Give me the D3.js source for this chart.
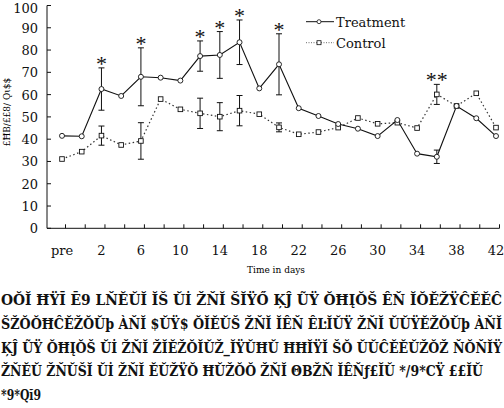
<!DOCTYPE html>
<html lang="en">
<head>
  <meta charset="UTF-8" />
  <title>Treatment vs Control</title>
  <script src="https://d3js.org/d3.v7.min.js"></script>
  <style>
    body { margin: 0; background: #fff; }
    svg { display: block; }
    .tick-label { font-family: "DejaVu Serif", serif; font-size: 13px; fill: #111; }
    .caption { font-family: "DejaVu Serif Condensed", "DejaVu Serif", serif; font-weight: bold; font-size: 14px; fill: #111; }
  </style>
</head>
<body>
  <svg id="chart" width="504" height="408"></svg>

  <script>
    // x categories: pre, then every 2 days from 0 to 42
    const days = ["pre", "0", "2", "4", "6", "8", "10", "12", "14", "16", "18", "20",
                  "22", "24", "26", "28", "30", "32", "34", "36", "38", "40", "42"];
    const xLabels = ["pre", "2", "6", "10", "14", "18", "22", "26", "30", "34", "38", "42"];
    const yTicks = [0, 10, 20, 30, 40, 50, 60, 70, 80, 90, 100];

    const treatment = [41.5, 41.3, 62.5, 59.4, 68, 67.6, 66.3, 77.3, 77.8, 83.5, 62.8, 73.6,
                       53.9, 50.4, 46.8, 44.7, 41.4, 48.6, 33.5, 32.1, 54.9, 49.4, 41.4];
    const treatmentErr = [0, 0, 9.5, 0, 13, 0, 0, 6.8, 10.5, 10, 0, 13.7,
                          0, 0, 0, 0, 0, 0, 0, 3, 0, 0, 0];
    const control = [31.1, 34.4, 41.6, 37.4, 39.2, 58, 53.4, 51.6, 50.1, 52.8, 51.2, 45.3,
                     42.2, 43.2, 45.2, 49.5, 46.9, 47.4, 45, 60.1, 54.9, 60.6, 45.2];
    const controlErr = [0, 0, 4.3, 0, 8.2, 0, 0, 6.8, 6.3, 6.8, 0, 2,
                        0, 0, 0, 0, 0, 0, 0, 4.5, 0, 0, 0];

    // significance marks: [day, series, label]
    const marks = [["2", "t", "*"], ["6", "t", "*"], ["12", "t", "*"], ["14", "t", "*"],
                   ["16", "t", "*"], ["20", "t", "*"], ["36", "c", "**"]];

    const captionLines = [
      "OŎĬ ĦŸĪ  Ē9 LŇĔŬĬ ĬŠ  Ŭİ  ŽŇĬ  ŠĬŸŐ  ĶĴ ŨŸ  ŎĦĮŎŠ  ÊŇ  ĬŎĔŽŸĈĔĔĈ",
      "ŠŽŎŎĦĈĔŽŎŬþ ÀŇĬ $ŬŸ$ ŎĬĔŬŠ ŽŇĬ ĬÊŇ ÊĿĬŬŸ ŽŇĬ ŬŬŸĔŽŎŬþ ÀŇĬ",
      "ĶĴ ŨŸ ŎĦĮŎŠ Ŭİ ŽŇĬ ŽĬĔŽŎĬŬŽ_ĬŸŬĦŬ ĦĦĬŸĬ ŠŎ ŬŬĈĔĔŬŽŎŽ ŇŎŇĬŸ",
      "ŽŇĔŬ ŽŇŬŠĬ Ŭİ ŽŇĬ ĔŬŽŸŎ ĦŬŽŎŎ ŽŇĬ ΘBŽŇ ĬÊŇƒ£ĬŬ */9*CŸ ££ĬŬ",
      "*9*Qĭ9"
    ];
    const captionWidths = [501, 501, 501, 482, 40];

    const svg = d3.select("#chart");

    const x = d3.scalePoint().domain(days).range([62, 496]);
    const y = d3.scaleLinear().domain([0, 100]).range([228.3, 5.5]);

    // axes
    svg.append("line").attr("x1", 47).attr("x2", 47).attr("y1", y(100)).attr("y2", y(0))
      .attr("stroke", "#111").attr("stroke-width", 1);
    svg.append("line").attr("x1", 47).attr("x2", 499.5).attr("y1", y(0)).attr("y2", y(0))
      .attr("stroke", "#111").attr("stroke-width", 1);

    yTicks.forEach(t => {
      svg.append("line").attr("x1", 47).attr("x2", 51).attr("y1", y(t)).attr("y2", y(t))
        .attr("stroke", "#111");
      svg.append("text").attr("class", "tick-label")
        .attr("x", 38).attr("y", y(t) + (t === 100 ? 7.5 : 5))
        .attr("text-anchor", "end").text(t);
    });

    days.forEach(d => {
      svg.append("line").attr("x1", x(d) + 3.5).attr("x2", x(d) + 3.5)
        .attr("y1", y(0)).attr("y2", y(0) - 4).attr("stroke", "#111");
    });

    xLabels.forEach(d => {
      svg.append("text").attr("class", "tick-label")
        .attr("x", x(d)).attr("y", 255)
        .attr("text-anchor", "middle").text(d);
    });

    svg.append("text").attr("x", 276).attr("y", 273)
      .attr("text-anchor", "middle")
      .style("font-family", "DejaVu Serif, serif").style("font-size", "9px")
      .text("Time in days");

    svg.append("text")
      .attr("transform", "translate(10,112) rotate(-90)")
      .attr("text-anchor", "middle")
      .style("font-family", "DejaVu Serif, serif").style("font-size", "9px")
      .text("£ĦB∕££8∕ Ǫɩ$$");

    // error bars
    function errBars(vals, errs) {
      vals.forEach((v, i) => {
        const e = errs[i];
        if (!e) return;
        const cx = x(days[i]);
        const g = svg.append("g").attr("stroke", "#111").attr("stroke-width", 1);
        g.append("line").attr("x1", cx).attr("x2", cx).attr("y1", y(v + e)).attr("y2", y(v - e));
        g.append("line").attr("x1", cx - 3).attr("x2", cx + 3).attr("y1", y(v + e)).attr("y2", y(v + e));
        g.append("line").attr("x1", cx - 3).attr("x2", cx + 3).attr("y1", y(v - e)).attr("y2", y(v - e));
      });
    }
    errBars(control, controlErr);
    errBars(treatment, treatmentErr);

    const line = d3.line().x((d, i) => x(days[i])).y(d => y(d));

    svg.append("path").datum(control).attr("d", line)
      .attr("fill", "none").attr("stroke", "#333").attr("stroke-width", 1.2)
      .attr("stroke-dasharray", "1.5,2.5");
    svg.append("path").datum(treatment).attr("d", line)
      .attr("fill", "none").attr("stroke", "#111").attr("stroke-width", 1.1);

    svg.selectAll(".sq").data(control).join("rect").attr("class", "sq")
      .attr("x", (d, i) => x(days[i]) - 2.3).attr("y", d => y(d) - 2.3)
      .attr("width", 4.6).attr("height", 4.6)
      .attr("fill", "#fff").attr("stroke", "#111").attr("stroke-width", 0.9);
    svg.selectAll(".ci").data(treatment).join("circle").attr("class", "ci")
      .attr("cx", (d, i) => x(days[i])).attr("cy", d => y(d)).attr("r", 2.5)
      .attr("fill", "#fff").attr("stroke", "#111").attr("stroke-width", 0.9);

    // significance stars
    marks.forEach(([d, s, lab]) => {
      const i = days.indexOf(d);
      const top = s === "t" ? treatment[i] + treatmentErr[i] : control[i] + controlErr[i];
      svg.append("text").attr("x", x(d)).attr("y", y(top) + 3)
        .attr("text-anchor", "middle")
        .style("font-family", "Liberation Serif, serif").style("font-size", "22px")
        .attr("fill", "#111").text(lab);
    });

    // legend
    const legend = [["Treatment", "t", 21.7], ["Control", "c", 42.7]];
    legend.forEach(([name, s, ly]) => {
      svg.append("line").attr("x1", 306).attr("x2", 334).attr("y1", ly).attr("y2", ly)
        .attr("stroke", s === "t" ? "#111" : "#444").attr("stroke-width", s === "t" ? 1 : 0.8)
        .attr("stroke-dasharray", s === "t" ? null : "1,1.5");
      if (s === "t") {
        svg.append("circle").attr("cx", 319).attr("cy", ly).attr("r", 2)
          .attr("fill", "#fff").attr("stroke", "#111").attr("stroke-width", 0.8);
      } else {
        svg.append("rect").attr("x", 317).attr("y", ly - 2).attr("width", 4).attr("height", 4)
          .attr("fill", "#fff").attr("stroke", "#111").attr("stroke-width", 0.8);
      }
      svg.append("text").attr("class", "tick-label").attr("x", 336).attr("y", ly + 5)
        .text(name);
    });

    // caption (garbled font as in the source)
    captionLines.forEach((t, i) => {
      svg.append("text").attr("class", "caption")
        .attr("x", 1).attr("y", 305 + i * 23.8)
        .attr("textLength", captionWidths[i]).attr("lengthAdjust", "spacingAndGlyphs")
        .text(t);
    });
  </script>
</body>
</html>
